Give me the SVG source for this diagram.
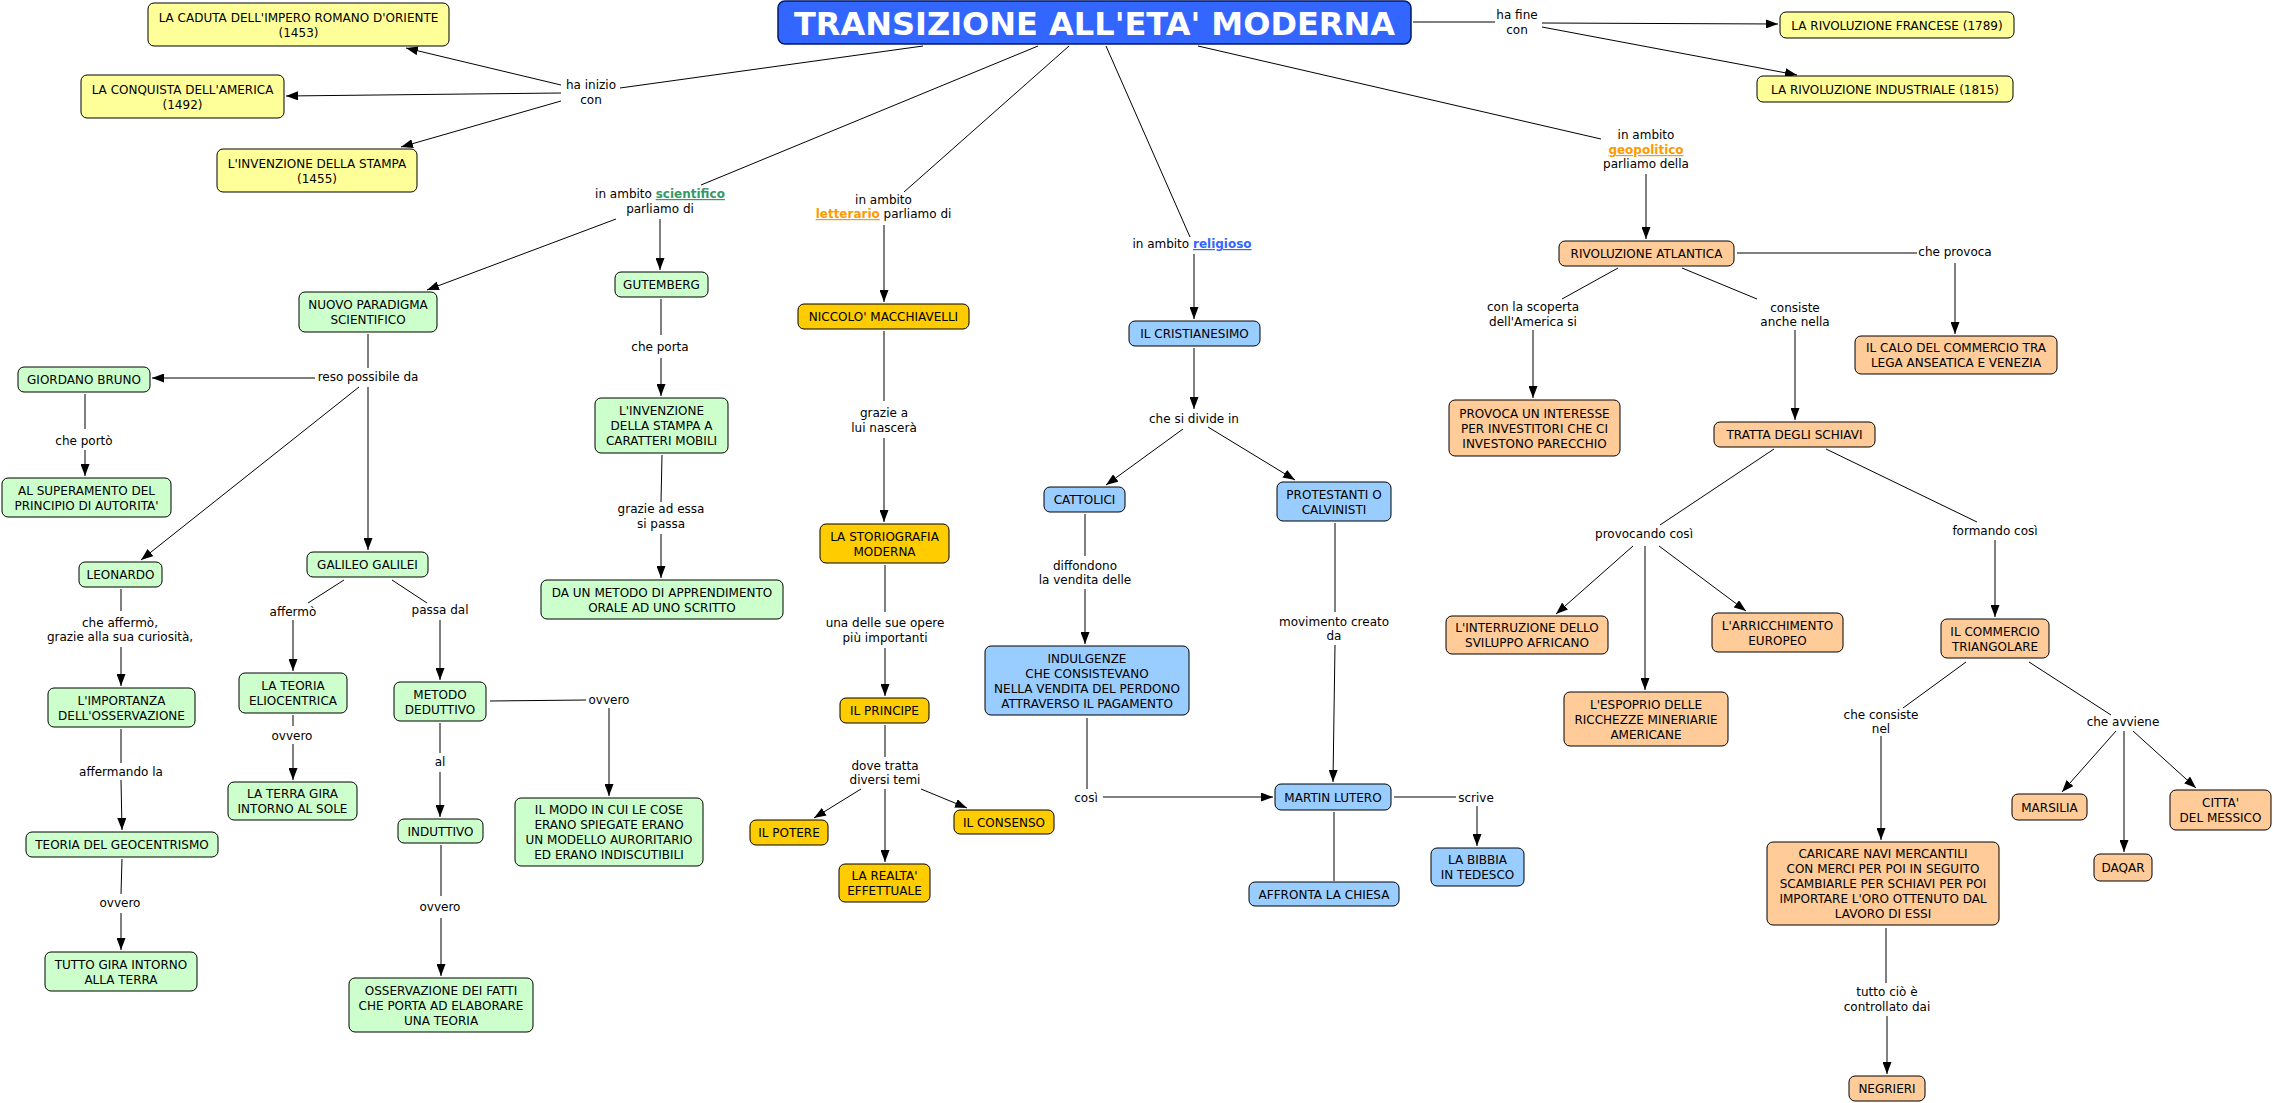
<svg xmlns="http://www.w3.org/2000/svg" width="2273" height="1103" viewBox="0 0 2273 1103">
<style>
text{font-family:"DejaVu Sans",Verdana,sans-serif;font-size:12px;fill:#000;text-anchor:middle}
.n rect{stroke:#000;stroke-width:1}
.y rect{fill:#ffff99}.g rect{fill:#ccffcc}.o rect{fill:#ffcc00}.b rect{fill:#99ccff}.p rect{fill:#ffcc99}
#conn line{stroke:#000;stroke-width:1;fill:none}
#conn line.a{marker-end:url(#ah)}
.lk{font-weight:bold;text-decoration:underline}
</style>
<defs>
<marker id="ah" viewBox="0 0 12 9" refX="12" refY="4.5" markerWidth="12" markerHeight="9" markerUnits="userSpaceOnUse" orient="auto"><path d="M0,0 L12,4.5 L0,9 z" fill="#000"/></marker>
</defs>
<rect width="2273" height="1103" fill="#fff"/>
<g id="conn">
<line x1="923" y1="46" x2="620" y2="88"/>
<line x1="1413" y1="22" x2="1495" y2="22"/>
<line x1="1038" y1="46" x2="701" y2="185"/>
<line x1="1069" y1="46" x2="904" y2="192"/>
<line x1="1106" y1="46" x2="1190" y2="237"/>
<line x1="1198" y1="46" x2="1601" y2="139"/>
<line x1="368" y1="334" x2="368" y2="368"/>
<line x1="661" y1="299" x2="661" y2="335"/>
<line x1="662" y1="455" x2="661" y2="502"/>
<line x1="85" y1="394" x2="85" y2="429"/>
<line x1="121" y1="589" x2="121" y2="611"/>
<line x1="344" y1="580" x2="308" y2="603"/>
<line x1="392" y1="580" x2="427" y2="603"/>
<line x1="490" y1="701" x2="586" y2="700"/>
<line x1="293" y1="715" x2="293" y2="726"/>
<line x1="440" y1="723" x2="440" y2="753"/>
<line x1="441" y1="845" x2="441" y2="896"/>
<line x1="121" y1="729" x2="121" y2="763"/>
<line x1="122" y1="859" x2="121" y2="894"/>
<line x1="884" y1="331" x2="884" y2="401"/>
<line x1="885" y1="565" x2="885" y2="612"/>
<line x1="885" y1="725" x2="885" y2="757"/>
<line x1="1085" y1="514" x2="1085" y2="556"/>
<line x1="1335" y1="523" x2="1335" y2="612"/>
<line x1="1087" y1="718" x2="1087" y2="789"/>
<line x1="1394" y1="797" x2="1456" y2="797"/>
<line x1="1334" y1="812" x2="1334" y2="881"/>
<line x1="1737" y1="253" x2="1917" y2="253"/>
<line x1="1618" y1="268" x2="1562" y2="299"/>
<line x1="1682" y1="268" x2="1757" y2="299"/>
<line x1="1774" y1="449" x2="1660" y2="525"/>
<line x1="1826" y1="449" x2="1977" y2="522"/>
<line x1="1966" y1="662" x2="1903" y2="708"/>
<line x1="1886" y1="928" x2="1886" y2="983"/>
<line x1="2029" y1="662" x2="2111" y2="715"/>
<line class="a" x1="561" y1="85" x2="406" y2="48"/>
<line class="a" x1="561" y1="93" x2="286" y2="96"/>
<line class="a" x1="561" y1="101" x2="401" y2="147"/>
<line class="a" x1="1542" y1="23" x2="1778" y2="24"/>
<line class="a" x1="1542" y1="27" x2="1797" y2="75"/>
<line class="a" x1="616" y1="219" x2="427" y2="290"/>
<line class="a" x1="660" y1="219" x2="660" y2="270"/>
<line class="a" x1="661" y1="358" x2="661" y2="396"/>
<line class="a" x1="661" y1="534" x2="661" y2="578"/>
<line class="a" x1="315" y1="378" x2="152" y2="378"/>
<line class="a" x1="359" y1="387" x2="141" y2="560"/>
<line class="a" x1="368" y1="387" x2="368" y2="550"/>
<line class="a" x1="85" y1="450" x2="85" y2="476"/>
<line class="a" x1="121" y1="647" x2="121" y2="686"/>
<line class="a" x1="293" y1="620" x2="293" y2="671"/>
<line class="a" x1="440" y1="620" x2="440" y2="680"/>
<line class="a" x1="609" y1="708" x2="609" y2="796"/>
<line class="a" x1="293" y1="744" x2="293" y2="780"/>
<line class="a" x1="440" y1="772" x2="440" y2="817"/>
<line class="a" x1="441" y1="918" x2="441" y2="976"/>
<line class="a" x1="121" y1="780" x2="122" y2="830"/>
<line class="a" x1="121" y1="913" x2="121" y2="950"/>
<line class="a" x1="884" y1="225" x2="884" y2="302"/>
<line class="a" x1="884" y1="438" x2="884" y2="522"/>
<line class="a" x1="885" y1="648" x2="885" y2="696"/>
<line class="a" x1="861" y1="789" x2="814" y2="818"/>
<line class="a" x1="885" y1="789" x2="885" y2="862"/>
<line class="a" x1="921" y1="789" x2="967" y2="808"/>
<line class="a" x1="1194" y1="254" x2="1194" y2="319"/>
<line class="a" x1="1194" y1="348" x2="1194" y2="409"/>
<line class="a" x1="1183" y1="429" x2="1106" y2="485"/>
<line class="a" x1="1208" y1="427" x2="1295" y2="480"/>
<line class="a" x1="1085" y1="589" x2="1085" y2="644"/>
<line class="a" x1="1335" y1="645" x2="1333" y2="782"/>
<line class="a" x1="1103" y1="797" x2="1273" y2="797"/>
<line class="a" x1="1477" y1="806" x2="1477" y2="846"/>
<line class="a" x1="1646" y1="174" x2="1646" y2="239"/>
<line class="a" x1="1955" y1="263" x2="1955" y2="334"/>
<line class="a" x1="1533" y1="330" x2="1533" y2="398"/>
<line class="a" x1="1795" y1="330" x2="1795" y2="420"/>
<line class="a" x1="1633" y1="546" x2="1556" y2="614"/>
<line class="a" x1="1645" y1="546" x2="1645" y2="690"/>
<line class="a" x1="1659" y1="546" x2="1746" y2="611"/>
<line class="a" x1="1995" y1="540" x2="1995" y2="617"/>
<line class="a" x1="1881" y1="736" x2="1881" y2="840"/>
<line class="a" x1="1887" y1="1016" x2="1887" y2="1074"/>
<line class="a" x1="2116" y1="731" x2="2062" y2="792"/>
<line class="a" x1="2124" y1="731" x2="2124" y2="852"/>
<line class="a" x1="2133" y1="731" x2="2196" y2="788"/>
</g>
<g id="labels">
<text x="591" y="89">ha inizio</text><text x="591" y="104">con</text>
<text x="1517" y="19">ha fine</text><text x="1517" y="34">con</text>
<text x="660" y="198">in ambito <tspan class="lk" style="fill:#339966">scientifico</tspan></text><text x="660" y="213">parliamo di</text>
<text x="883.5" y="204">in ambito</text><text x="883.5" y="218"><tspan class="lk" style="fill:#ff9900">letterario</tspan> parliamo di</text>
<text x="1192" y="248">in ambito <tspan class="lk" style="fill:#3366ff">religioso</tspan></text>
<text x="1646" y="139">in ambito</text><text x="1646" y="154" class="lk" style="fill:#ff9900">geopolitico</text><text x="1646" y="168">parliamo della</text>
<text x="660" y="351">che porta</text>
<text x="661" y="513">grazie ad essa</text><text x="661" y="528">si passa</text>
<text x="368" y="381">reso possibile da</text>
<text x="84" y="445">che portò</text>
<text x="120" y="627">che affermò,</text><text x="120" y="641">grazie alla sua curiosità,</text>
<text x="293" y="616">affermò</text>
<text x="440" y="614">passa dal</text>
<text x="609" y="704">ovvero</text>
<text x="292" y="740">ovvero</text>
<text x="440" y="766">al</text>
<text x="440" y="911">ovvero</text>
<text x="121" y="776">affermando la</text>
<text x="120" y="907">ovvero</text>
<text x="884" y="417">grazie a</text><text x="884" y="432">lui nascerà</text>
<text x="885" y="627">una delle sue opere</text><text x="885" y="642">più importanti</text>
<text x="885" y="770">dove tratta</text><text x="885" y="784">diversi temi</text>
<text x="1194" y="423">che si divide in</text>
<text x="1085" y="570">diffondono</text><text x="1085" y="584">la vendita delle</text>
<text x="1334" y="626">movimento creato</text><text x="1334" y="640">da</text>
<text x="1086" y="802">così</text>
<text x="1476" y="802">scrive</text>
<text x="1955" y="256">che provoca</text>
<text x="1533" y="311">con la scoperta</text><text x="1533" y="326">dell'America si</text>
<text x="1795" y="312">consiste</text><text x="1795" y="326">anche nella</text>
<text x="1644" y="538">provocando così</text>
<text x="1995" y="535">formando così</text>
<text x="1881" y="719">che consiste</text><text x="1881" y="733">nel</text>
<text x="1887" y="996">tutto ciò è</text><text x="1887" y="1011">controllato dai</text>
<text x="2123" y="726">che avviene</text>
</g>
<g id="title" class="n"><rect x="778" y="1" width="633" height="43" rx="7" style="fill:#3366ff;stroke:#001a66;stroke-width:1.5"/><text x="1094.5" y="35" style="font-size:32px;font-weight:bold;fill:#fff">TRANSIZIONE ALL'ETA' MODERNA</text></g>
<g id="caduta" class="n y"><rect x="148" y="3" width="301" height="43" rx="6"/><text x="298.5" y="21.5">LA CADUTA DELL'IMPERO ROMANO D'ORIENTE</text><text x="298.5" y="36.5">(1453)</text></g>
<g id="conquista" class="n y"><rect x="81" y="75" width="203" height="43" rx="6"/><text x="182.5" y="93.5">LA CONQUISTA DELL'AMERICA</text><text x="182.5" y="108.5">(1492)</text></g>
<g id="stampa" class="n y"><rect x="217" y="149" width="200" height="43" rx="6"/><text x="317" y="167.5">L'INVENZIONE DELLA STAMPA</text><text x="317" y="182.5">(1455)</text></g>
<g id="francese" class="n y"><rect x="1780" y="12" width="234" height="26" rx="6"/><text x="1897" y="29.5">LA RIVOLUZIONE FRANCESE (1789)</text></g>
<g id="industriale" class="n y"><rect x="1757" y="76" width="256" height="26" rx="6"/><text x="1885" y="93.5">LA RIVOLUZIONE INDUSTRIALE (1815)</text></g>
<g id="nuovo" class="n g"><rect x="299" y="292" width="138" height="40" rx="6"/><text x="368" y="309">NUOVO PARADIGMA</text><text x="368" y="324">SCIENTIFICO</text></g>
<g id="gutemberg" class="n g"><rect x="615" y="272" width="93" height="25" rx="6"/><text x="661.5" y="289">GUTEMBERG</text></g>
<g id="invenzione" class="n g"><rect x="595" y="398" width="133" height="55" rx="6"/><text x="661.5" y="415">L'INVENZIONE</text><text x="661.5" y="430">DELLA STAMPA A</text><text x="661.5" y="445">CARATTERI MOBILI</text></g>
<g id="metodo-app" class="n g"><rect x="541" y="580" width="242" height="39" rx="6"/><text x="662" y="596.5">DA UN METODO DI APPRENDIMENTO</text><text x="662" y="611.5">ORALE AD UNO SCRITTO</text></g>
<g id="giordano" class="n g"><rect x="18" y="367" width="132" height="25" rx="6"/><text x="84" y="384">GIORDANO BRUNO</text></g>
<g id="superamento" class="n g"><rect x="2" y="478" width="169" height="39" rx="6"/><text x="86.5" y="494.5">AL SUPERAMENTO DEL</text><text x="86.5" y="509.5">PRINCIPIO DI AUTORITA'</text></g>
<g id="leonardo" class="n g"><rect x="79" y="562" width="83" height="25" rx="6"/><text x="120.5" y="579">LEONARDO</text></g>
<g id="importanza" class="n g"><rect x="48" y="688" width="147" height="39" rx="6"/><text x="121.5" y="704.5">L'IMPORTANZA</text><text x="121.5" y="719.5">DELL'OSSERVAZIONE</text></g>
<g id="galileo" class="n g"><rect x="307" y="552" width="121" height="25" rx="6"/><text x="367.5" y="569">GALILEO GALILEI</text></g>
<g id="eliocentrica" class="n g"><rect x="239" y="673" width="108" height="40" rx="6"/><text x="293" y="690">LA TEORIA</text><text x="293" y="705">ELIOCENTRICA</text></g>
<g id="deduttivo" class="n g"><rect x="394" y="682" width="92" height="39" rx="6"/><text x="440" y="698.5">METODO</text><text x="440" y="713.5">DEDUTTIVO</text></g>
<g id="terra-sole" class="n g"><rect x="228" y="782" width="129" height="38" rx="6"/><text x="292.5" y="798">LA TERRA GIRA</text><text x="292.5" y="813">INTORNO AL SOLE</text></g>
<g id="induttivo" class="n g"><rect x="398" y="819" width="85" height="24" rx="6"/><text x="440.5" y="835.5">INDUTTIVO</text></g>
<g id="osservazione" class="n g"><rect x="349" y="978" width="184" height="54" rx="6"/><text x="441" y="994.5">OSSERVAZIONE DEI FATTI</text><text x="441" y="1009.5">CHE PORTA AD ELABORARE</text><text x="441" y="1024.5">UNA TEORIA</text></g>
<g id="modo" class="n g"><rect x="515" y="798" width="188" height="68" rx="6"/><text x="609" y="814">IL MODO IN CUI LE COSE</text><text x="609" y="829">ERANO SPIEGATE ERANO</text><text x="609" y="844">UN MODELLO AURORITARIO</text><text x="609" y="859">ED ERANO INDISCUTIBILI</text></g>
<g id="geocentrismo" class="n g"><rect x="26" y="832" width="192" height="25" rx="6"/><text x="122" y="849">TEORIA DEL GEOCENTRISMO</text></g>
<g id="tutto-gira" class="n g"><rect x="45" y="952" width="152" height="39" rx="6"/><text x="121" y="968.5">TUTTO GIRA INTORNO</text><text x="121" y="983.5">ALLA TERRA</text></g>
<g id="niccolo" class="n o"><rect x="798" y="304" width="171" height="25" rx="6"/><text x="883.5" y="321">NICCOLO' MACCHIAVELLI</text></g>
<g id="storiografia" class="n o"><rect x="820" y="524" width="129" height="39" rx="6"/><text x="884.5" y="540.5">LA STORIOGRAFIA</text><text x="884.5" y="555.5">MODERNA</text></g>
<g id="principe" class="n o"><rect x="840" y="698" width="89" height="25" rx="6"/><text x="884.5" y="715">IL PRINCIPE</text></g>
<g id="potere" class="n o"><rect x="750" y="820" width="78" height="25" rx="6"/><text x="789" y="837">IL POTERE</text></g>
<g id="consenso" class="n o"><rect x="954" y="810" width="100" height="24" rx="6"/><text x="1004" y="826.5">IL CONSENSO</text></g>
<g id="realta" class="n o"><rect x="839" y="864" width="91" height="38" rx="6"/><text x="884.5" y="880">LA REALTA'</text><text x="884.5" y="895">EFFETTUALE</text></g>
<g id="cristianesimo" class="n b"><rect x="1129" y="321" width="131" height="25" rx="6"/><text x="1194.5" y="338">IL CRISTIANESIMO</text></g>
<g id="cattolici" class="n b"><rect x="1044" y="487" width="81" height="25" rx="6"/><text x="1084.5" y="504">CATTOLICI</text></g>
<g id="protestanti" class="n b"><rect x="1277" y="482" width="114" height="39" rx="6"/><text x="1334" y="498.5">PROTESTANTI O</text><text x="1334" y="513.5">CALVINISTI</text></g>
<g id="indulgenze" class="n b"><rect x="985" y="646" width="204" height="69" rx="6"/><text x="1087" y="662.5">INDULGENZE</text><text x="1087" y="677.5">CHE CONSISTEVANO</text><text x="1087" y="692.5">NELLA VENDITA DEL PERDONO</text><text x="1087" y="707.5">ATTRAVERSO IL PAGAMENTO</text></g>
<g id="lutero" class="n b"><rect x="1275" y="784" width="116" height="26" rx="6"/><text x="1333" y="801.5">MARTIN LUTERO</text></g>
<g id="bibbia" class="n b"><rect x="1431" y="848" width="93" height="38" rx="6"/><text x="1477.5" y="864">LA BIBBIA</text><text x="1477.5" y="879">IN TEDESCO</text></g>
<g id="affronta" class="n b"><rect x="1249" y="882" width="150" height="24" rx="6"/><text x="1324" y="898.5">AFFRONTA LA CHIESA</text></g>
<g id="atlantica" class="n p"><rect x="1559" y="241" width="175" height="25" rx="6"/><text x="1646.5" y="258">RIVOLUZIONE ATLANTICA</text></g>
<g id="calo" class="n p"><rect x="1855" y="336" width="202" height="38" rx="6"/><text x="1956" y="352">IL CALO DEL COMMERCIO TRA</text><text x="1956" y="367">LEGA ANSEATICA E VENEZIA</text></g>
<g id="provoca" class="n p"><rect x="1449" y="400" width="171" height="56" rx="6"/><text x="1534.5" y="417.5">PROVOCA UN INTERESSE</text><text x="1534.5" y="432.5">PER INVESTITORI CHE CI</text><text x="1534.5" y="447.5">INVESTONO PARECCHIO</text></g>
<g id="tratta" class="n p"><rect x="1714" y="422" width="161" height="25" rx="6"/><text x="1794.5" y="439">TRATTA DEGLI SCHIAVI</text></g>
<g id="interruzione" class="n p"><rect x="1446" y="616" width="162" height="38" rx="6"/><text x="1527" y="632">L'INTERRUZIONE DELLO</text><text x="1527" y="647">SVILUPPO AFRICANO</text></g>
<g id="arricchimento" class="n p"><rect x="1712" y="613" width="131" height="39" rx="6"/><text x="1777.5" y="629.5">L'ARRICCHIMENTO</text><text x="1777.5" y="644.5">EUROPEO</text></g>
<g id="espoprio" class="n p"><rect x="1564" y="692" width="164" height="54" rx="6"/><text x="1646" y="708.5">L'ESPOPRIO DELLE</text><text x="1646" y="723.5">RICCHEZZE MINERIARIE</text><text x="1646" y="738.5">AMERICANE</text></g>
<g id="triangolare" class="n p"><rect x="1941" y="619" width="108" height="39" rx="6"/><text x="1995" y="635.5">IL COMMERCIO</text><text x="1995" y="650.5">TRIANGOLARE</text></g>
<g id="caricare" class="n p"><rect x="1767" y="842" width="232" height="83" rx="6"/><text x="1883" y="858">CARICARE NAVI MERCANTILI</text><text x="1883" y="873">CON MERCI PER POI IN SEGUITO</text><text x="1883" y="888">SCAMBIARLE PER SCHIAVI PER POI</text><text x="1883" y="903">IMPORTARE L'ORO OTTENUTO DAL</text><text x="1883" y="918">LAVORO DI ESSI</text></g>
<g id="negrieri" class="n p"><rect x="1849" y="1076" width="76" height="25" rx="6"/><text x="1887" y="1093">NEGRIERI</text></g>
<g id="marsilia" class="n p"><rect x="2012" y="794" width="75" height="26" rx="6"/><text x="2049.5" y="811.5">MARSILIA</text></g>
<g id="daqar" class="n p"><rect x="2094" y="854" width="58" height="27" rx="6"/><text x="2123" y="872">DAQAR</text></g>
<g id="citta" class="n p"><rect x="2170" y="790" width="101" height="40" rx="6"/><text x="2220.5" y="807">CITTA'</text><text x="2220.5" y="822">DEL MESSICO</text></g>
</svg>
